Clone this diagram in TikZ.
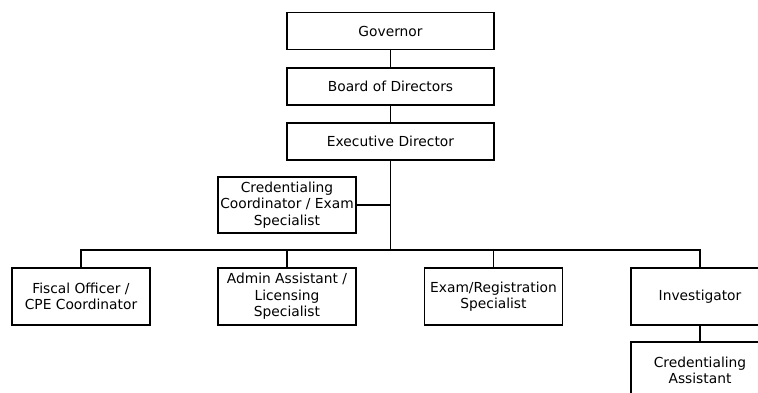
\documentclass[tikz,border=0pt]{standalone}
\usepackage{fontspec}
\setmainfont{DejaVu Sans}
\usetikzlibrary{positioning}
\tikzset{post/.style={draw,line width=1.7pt,align=center,inner sep=0pt,font=\fontsize{13.8}{16.5}\selectfont}}
\tikzset{wide post/.style={post,minimum width=207pt,minimum height=37pt}}
\tikzset{staff post/.style={post,minimum width=138pt,minimum height=57pt}}
\begin{document}
\begin{tikzpicture}[x=1pt,y=-1pt,line width=1.7pt]
                \path[use as bounding box,clip] (0,0) rectangle (758,393);
                \node[wide post] (gov)   at (390.5,31)    {Governor};
                \node[wide post] (board) at (390.5,86.5)  {Board of Directors};
                \node[wide post] (exec)  at (390.5,141.5) {Executive Director};
                \node[staff post,minimum height=56pt] (credc) at (287,205) {Credentialing\\Coordinator / Exam\\Specialist};
                \node[staff post] (fiscal)   at (81,296.5)    {Fiscal Officer /\\CPE Coordinator};
                \node[staff post] (admin)    at (287,296.5)   {Admin Assistant /\\Licensing\\Specialist};
                \node[staff post] (examreg)  at (493.5,296.5) {Exam/Registration\\Specialist};
                \node[staff post] (invest)   at (700,296.5)   {Investigator};
                \node[staff post] (credasst) at (700,370.5)   {Credentialing\\Assistant};
                \coordinate (bus) at (390.5,250);
                \draw (gov) -- (board);
                \draw (board) -- (exec);
                \draw (exec) -- (bus);
                \draw (credc.east) -- (exec.south |- credc.east);
                \draw (fiscal.north) |- (bus) -| (invest.north);
                \draw (admin.north) -- (admin.north |- bus);
                \draw (examreg.north) -- (examreg.north |- bus);
                \draw (invest) -- (credasst);
            \end{tikzpicture}
\end{document}
